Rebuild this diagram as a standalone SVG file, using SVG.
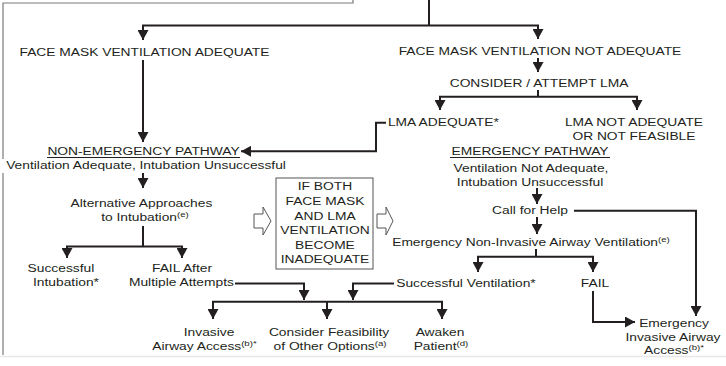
<svg xmlns="http://www.w3.org/2000/svg" width="726" height="366" viewBox="0 0 726 366">
<defs>
<style>
text{font-family:"Liberation Sans",Arial,Helvetica,sans-serif;font-size:11.5px;fill:#231f20;text-anchor:middle}
.c{fill:none;stroke:#231f20;stroke-width:2}
.a{marker-end:url(#ah)}
.sup{font-size:8px}
.ul{stroke:#231f20;stroke-width:1}
.frame{fill:none;stroke:#7a7a7a;stroke-width:1.2}
.hollow{fill:#fff;stroke:#555;stroke-width:1}
</style>
<marker id="ah" markerUnits="userSpaceOnUse" markerWidth="10" markerHeight="11" refX="10" refY="5.5" orient="auto">
<path d="M0,0 L10,5.5 L0,11 Z" fill="#231f20"/>
</marker>
</defs>
<rect width="726" height="366" fill="#fff"/>
<g id="frame">
<path class="frame" d="M353,0 V3 H3 V159 M3,173 V355"/>
<line x1="0" y1="356.5" x2="726" y2="356.5" stroke="#e8e8e8" stroke-width="1.5"/>
</g>
<g id="connectors">
<path class="c" d="M429,0 V25.5"/>
<path class="c" d="M142,25.5 H539"/>
<path class="c a" d="M143,25.5 V40"/>
<path class="c a" d="M538,25.5 V39"/>
<path class="c a" d="M143,60 V142"/>
<path class="c a" d="M538,58 V72"/>
<path class="c" d="M538,90 V96.7"/>
<path class="c" d="M439,96.7 H638"/>
<path class="c a" d="M440,96.7 V110"/>
<path class="c a" d="M637,96.7 V110"/>
<path class="c a" d="M386,122.7 H376 V151.3 H241"/>
<path class="c a" d="M143,173 V188"/>
<path class="c" d="M143,226 V246.5"/>
<path class="c" d="M66,246.5 H183"/>
<path class="c a" d="M67,246.5 V258"/>
<path class="c a" d="M182,246.5 V258"/>
<path class="c a" d="M235,283.5 H304 V300"/>
<path class="c a" d="M394,283.5 H353 V300"/>
<path class="c" d="M212,301.7 H443"/>
<path class="c a" d="M213,301.7 V319"/>
<path class="c a" d="M327,301.7 V319"/>
<path class="c a" d="M442,301.7 V319"/>
<path class="c a" d="M537,188 V204"/>
<path class="c a" d="M537,217 V234"/>
<path class="c a" d="M574,210.7 H696 V316"/>
<path class="c" d="M536,249 V256.7"/>
<path class="c" d="M477,256.7 H594"/>
<path class="c a" d="M478,256.7 V272"/>
<path class="c a" d="M593,256.7 V272"/>
<path class="c a" d="M593,291 V322 H635"/>
<polygon class="hollow" points="254,214 263,214 263,207 271,221 263,235 263,228 254,228"/>
<polygon class="hollow" points="377,214 386,214 386,207 393,221 386,235 386,228 377,228"/>
</g>
<g id="fmv-adequate" transform="scale(1.2 1)"><text x="120.4" y="56">FACE MASK VENTILATION ADEQUATE</text></g>
<g id="fmv-not-adequate" transform="scale(1.2 1)"><text x="450" y="55">FACE MASK VENTILATION NOT ADEQUATE</text></g>
<g id="consider-lma" transform="scale(1.2 1)"><text x="449.2" y="87">CONSIDER / ATTEMPT LMA</text></g>
<g id="lma-adequate" transform="scale(1.2 1)"><text x="323.3" y="126" style="text-anchor:start">LMA ADEQUATE*</text></g>
<g id="lma-not-adequate" transform="scale(1.2 1)"><text x="528.3" y="126">LMA NOT ADEQUATE</text><text x="528.3" y="140">OR NOT FEASIBLE</text></g>
<g id="non-emergency">
<g transform="scale(1.2 1)"><text x="119.6" y="155">NON-EMERGENCY PATHWAY</text><text x="121.7" y="169.5">Ventilation Adequate, Intubation Unsuccessful</text></g>
<line class="ul" x1="47" y1="157.5" x2="240" y2="157.5"/>
</g>
<g id="alternative" transform="scale(1.2 1)"><text x="117.9" y="207">Alternative Approaches</text><text x="120.8" y="221">to Intubation<tspan class="sup" dy="-4">(e)</tspan></text></g>
<g id="successful-intubation" transform="scale(1.2 1)"><text x="50.8" y="272">Successful</text><text x="55" y="286">Intubation*</text></g>
<g id="fail-after" transform="scale(1.2 1)"><text x="151.7" y="272">FAIL After</text><text x="151.2" y="286">Multiple Attempts</text></g>
<g id="both-inadequate">
<rect x="276" y="178" width="97" height="91" fill="#fff" stroke="#555" stroke-width="1"/>
<g transform="scale(1.2 1)">
<text x="270.8" y="190">IF BOTH</text>
<text x="270.8" y="205">FACE MASK</text>
<text x="270.8" y="220">AND LMA</text>
<text x="270.8" y="234">VENTILATION</text>
<text x="270.8" y="249">BECOME</text>
<text x="270.8" y="263">INADEQUATE</text>
</g>
</g>
<g id="invasive-access" transform="scale(1.2 1)"><text x="174.2" y="336">Invasive</text><text x="170.4" y="350">Airway Access<tspan class="sup" dy="-4">(b)*</tspan></text></g>
<g id="consider-feasibility" transform="scale(1.2 1)"><text x="274.2" y="336">Consider Feasibility</text><text x="275" y="350">of Other Options<tspan class="sup" dy="-4">(a)</tspan></text></g>
<g id="awaken" transform="scale(1.2 1)"><text x="366.7" y="336">Awaken</text><text x="367.5" y="350">Patient<tspan class="sup" dy="-4">(d)</tspan></text></g>
<g id="emergency">
<g transform="scale(1.2 1)"><text x="441.7" y="155">EMERGENCY PATHWAY</text><text x="442.5" y="172">Ventilation Not Adequate,</text><text x="441.7" y="186">Intubation Unsuccessful</text></g>
<line class="ul" x1="450" y1="157.5" x2="610" y2="157.5"/>
</g>
<g id="call-help" transform="scale(1.2 1)"><text x="441.7" y="214">Call for Help</text></g>
<g id="non-invasive" transform="scale(1.2 1)"><text x="442.5" y="246">Emergency Non-Invasive Airway Ventilation<tspan class="sup" dy="-4">(e)</tspan></text></g>
<g id="successful-ventilation" transform="scale(1.2 1)"><text x="388.3" y="287">Successful Ventilation*</text></g>
<g id="fail" transform="scale(1.2 1)"><text x="495.8" y="287">FAIL</text></g>
<g id="emergency-invasive" transform="scale(1.2 1)"><text x="561.7" y="327">Emergency</text><text x="560.8" y="341">Invasive Airway</text><text x="561.7" y="354">Access<tspan class="sup" dy="-4">(b)*</tspan></text></g>
</svg>
